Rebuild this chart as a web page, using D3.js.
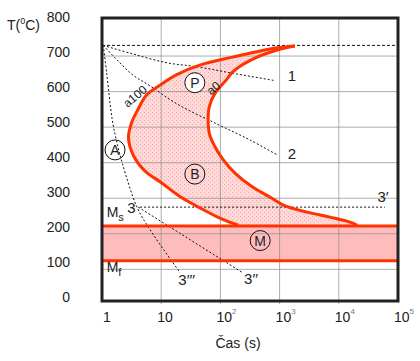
<!DOCTYPE html>
<html><head><meta charset="utf-8">
<script src="https://cdn.jsdelivr.net/npm/d3@7"></script>
<style>body{margin:0;background:#fff}svg{display:block}text{font-family:"Liberation Sans",Arial,sans-serif;fill:#222}</style>
</head><body>
<script>
// ---- data ----
const tempTicks = [0,100,200,300,400,500,600,700,800];
const timeTicks = [1,10,100,1000,10000,100000];
const timeTickBase = ["1","10","10","10","10","10"];
const timeTickSup = ["","","2","3","4","5"];
const gridTemps = [100,200,300,400,500,600,700];
const gridTimes = [10,100,1000,10000];
const A1 = 730, Ms = 222, Mf = 124;
// start of transformation (a100), bottom -> top
const startCurve = [[200,224],[98,244],[46,272],[21,304],[10.2,343],[5.2,378],[3.4,420],[2.8,470],[3.2,515],[4.0,548],[5.6,590],[9.5,618],[18,647],[46,675],[160,697],[690,720],[1800,728]];
// end of transformation (a0), top -> bottom
const endCurve = [[1800,728],[910,717],[320,688],[160,655],[126,633],[81,595],[65,558],[62,520],[66,478],[81,445],[112,408],[178,370],[340,333],[740,300],[1150,281],[2900,261],[7100,247],[15500,233],[20400,224]];
// cooling curves
const cool1 = [[1.05,730],[3.3,706],[12.6,681],[40,670],[145,653],[830,631]];
const cool2 = [[1.05,730],[1.8,689],[3.3,647],[6.5,616],[18.6,565],[87,509],[316,464],[930,421]];
const cool3 = [[1.05,730],[1.2,652],[1.48,524],[1.74,465],[2.2,399],[3.9,275],[6.5,211],[21,90]];
const cool3b = [[4.1,275],[240,90]];
const cool3a = [[4.4,275],[60000,275]];
const topLine = [[1,A1],[100000,A1]];
const curveLabels = [["1",1620,644],["2",1620,427],["3",3.15,275],["3′",56000,306],["3′′",330,75],["3′′′",27,70]];
const phaseLabels = [["P",37,625,"#fff"],["A",1.66,436,"none"],["B",37,368,"none"],["M",470,181,"none"]];

// ---- scales ----
const svg = d3.select("body").append("svg").attr("width",420).attr("height",361);
const x = d3.scaleLog().domain([1,100000]).range([102,398]);
const y = d3.scaleLinear().domain([0,800]).range([304.9,20.5]);
const yLab = d3.scaleLinear().domain([0,800]).range([296.7,16.7]);

const defs = svg.append("defs");
const pat = defs.append("pattern").attr("id","dots").attr("patternUnits","userSpaceOnUse").attr("width",4).attr("height",4);
pat.append("rect").attr("width",4).attr("height",4).attr("fill","#ffd8d8");
pat.append("rect").attr("x",0).attr("y",0).attr("width",1).attr("height",1).attr("fill","#ffa6a6");
pat.append("rect").attr("x",2).attr("y",2).attr("width",1).attr("height",1).attr("fill","#ffb4b4");

const line = d3.line().x(d=>x(d[0])).y(d=>y(d[1])).curve(d3.curveCatmullRom.alpha(0.5));
const straight = d3.line().x(d=>x(d[0])).y(d=>y(d[1]));

// fills
svg.append("path").attr("d", line(startCurve.concat(endCurve.slice(1))) + "Z").attr("fill","url(#dots)");
svg.append("rect").attr("x",x(1)).attr("y",y(Ms)).attr("width",x(100000)-x(1)).attr("height",y(Mf)-y(Ms)).attr("fill","#ffbcbc");

// grid
svg.append("g").selectAll("line").data(gridTemps).join("line")
  .attr("x1",x(1)).attr("x2",x(100000)).attr("y1",d=>y(d)).attr("y2",d=>y(d))
  .attr("stroke","#8a8a8a").attr("stroke-opacity",0.7);
svg.append("g").selectAll("line").data(gridTimes).join("line")
  .attr("x1",d=>x(d)).attr("x2",d=>x(d)).attr("y1",18).attr("y2",304)
  .attr("stroke","#8a8a8a").attr("stroke-opacity",0.7);

// dotted cooling lines
const dot = g => g.attr("fill","none").attr("stroke","#111").attr("stroke-width",1).attr("stroke-dasharray","2,2");
svg.append("path").attr("d",straight(topLine)).call(dot).attr("stroke-dasharray","3,2");
[cool1,cool2,cool3].forEach(c=>svg.append("path").attr("d",line(c)).call(dot));
[cool3b,cool3a].forEach(c=>svg.append("path").attr("d",straight(c)).call(dot));

// martensite lines
[Ms,Mf].forEach(t=>svg.append("line").attr("x1",x(1)).attr("x2",x(100000)).attr("y1",y(t)).attr("y2",y(t)).attr("stroke","#ff3300").attr("stroke-width",3));

// C curves
svg.append("path").attr("d",line(startCurve)).attr("fill","none").attr("stroke","#ff3300").attr("stroke-width",3);
svg.append("path").attr("d",line(endCurve)).attr("fill","none").attr("stroke","#ff3300").attr("stroke-width",3);

// frame
svg.append("rect").attr("x",102).attr("y",18).attr("width",296).attr("height",283).attr("fill","none").attr("stroke","#222").attr("stroke-width",3);

// phase circles
const pg = svg.append("g").selectAll("g").data(phaseLabels).join("g").attr("transform",d=>`translate(${x(d[1])},${y(d[2])})`);
pg.append("circle").attr("r",10).attr("fill",d=>d[3]).attr("stroke","#111").attr("stroke-width",1);
pg.append("text").attr("text-anchor","middle").attr("dy","0.36em").attr("font-size",14).text(d=>d[0]);

// curve labels
svg.append("g").selectAll("text").data(curveLabels).join("text")
  .attr("x",d=>x(d[1])).attr("y",d=>y(d[2])).attr("font-size",15).attr("text-anchor","middle").attr("dy","0.36em").text(d=>d[0]);

// rotated labels
svg.append("text").attr("transform",`translate(${x(3.6)},${y(587)}) rotate(-40)`).attr("text-anchor","middle").attr("dy","0.35em").attr("font-size",12).text("a100");
svg.append("text").attr("transform",`translate(${x(76)},${y(610)}) rotate(-40)`).attr("text-anchor","middle").attr("dy","0.35em").attr("font-size",12).text("a0");

// Ms / Mf
[["M","s",247],["M","f",93]].forEach(m=>{
  const t = svg.append("text").attr("x",x(1.2)).attr("y",y(m[2])).attr("font-size",14);
  t.append("tspan").text(m[0]);
  t.append("tspan").attr("font-size",11).attr("dy",4).text(m[1]);
});

// y tick labels
svg.append("g").selectAll("text").data(tempTicks).join("text")
  .attr("x",70).attr("y",d=>yLab(d)).attr("dy","0.36em").attr("text-anchor","end").attr("font-size",14).text(d=>d);

// x tick labels
const xt = svg.append("g").selectAll("text").data(timeTicks).join("text")
  .attr("x",(d,i)=>x(d)+(i===0?1:-4)).attr("y",321.5).attr("font-size",14);
xt.append("tspan").text((d,i)=>timeTickBase[i]);
xt.append("tspan").attr("font-size",8).attr("dy",-8).attr("fill","#777").text((d,i)=>timeTickSup[i]);

// axis titles
const yt = svg.append("text").attr("x",7).attr("y",30).attr("font-size",14);
yt.append("tspan").text("T(");
yt.append("tspan").attr("font-size",9).attr("dy",-6).text("0");
yt.append("tspan").attr("dy",6).text("C)");
svg.append("text").attr("x",238).attr("y",348).attr("text-anchor","middle").attr("font-size",14).text("Čas (s)");
</script>
</body></html>
